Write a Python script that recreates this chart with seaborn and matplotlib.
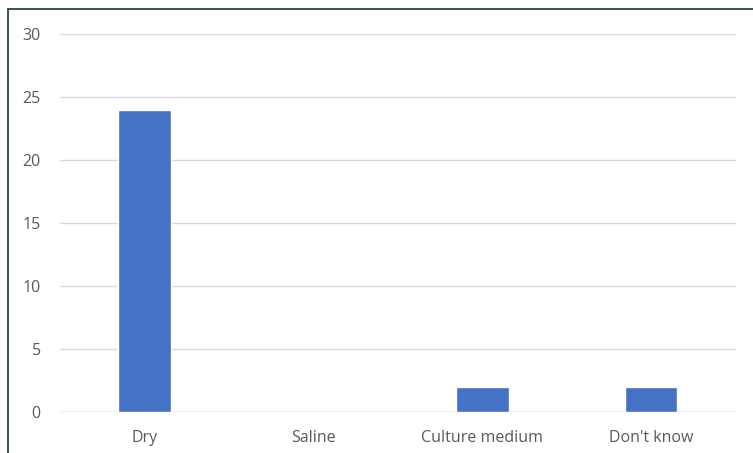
import matplotlib
matplotlib.use("Agg")
import matplotlib.pyplot as plt
import seaborn as sns
import pandas as pd
from matplotlib.lines import Line2D

categories = ["Dry", "Saline", "Culture medium", "Don't know"]
values = [24, 0, 2, 2]
yticks = [0, 5, 10, 15, 20, 25, 30]

sns.set_theme(style="white")
plt.rcParams['font.family'] = ['Open Sans', 'DejaVu Sans']

df = pd.DataFrame({"category": categories, "value": values})

fig = plt.figure(figsize=(7.53, 4.53), dpi=100)
ax = fig.add_axes([0.080, 0.0905, 0.897, 0.8345])
sns.barplot(data=df, x="category", y="value", color="#4472C4", width=0.31,
            saturation=1, ax=ax, zorder=3)
ax.set_ylim(0, 30)
ax.set_yticks(yticks)
ax.set_xlim(-0.5, 3.5)
ax.yaxis.grid(True, color="#d9d9d9", linewidth=1, zorder=0)
for s in ax.spines.values():
    s.set_visible(False)
ax.axhline(0, color="#d9d9d9", linewidth=1, zorder=2)
ax.set_xlabel("")
ax.set_ylabel("")
ax.tick_params(axis="both", length=0, labelsize=11.5, labelcolor="#595959")
ax.tick_params(axis="y", pad=14)
ax.tick_params(axis="x", pad=13)

# figure border (left and top)
fig.add_artist(Line2D([8/753, 8/753], [0, 1 - 9/453], color="#1f4e3d", linewidth=1.3,
                      transform=fig.transFigure))
fig.add_artist(Line2D([8/753, 1], [1 - 9/453, 1 - 9/453], color="#1f4e3d", linewidth=1.3,
                      transform=fig.transFigure))

fig.savefig("out.png", dpi=100)
